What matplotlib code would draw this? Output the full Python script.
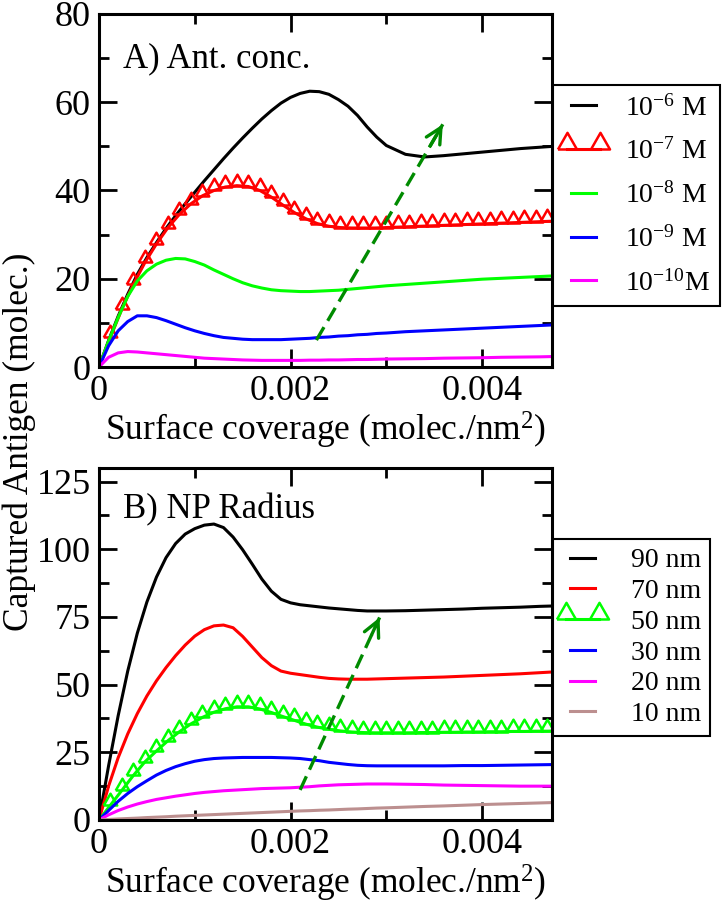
import numpy as np
import matplotlib
matplotlib.use('Agg')
import matplotlib.pyplot as plt
from matplotlib.ticker import MultipleLocator, FuncFormatter
from matplotlib.legend_handler import HandlerLine2D

plt.rcParams['font.family'] = 'serif'
plt.rcParams['font.serif'] = ['Liberation Serif', 'DejaVu Serif']
plt.rcParams['mathtext.fontset'] = 'custom'
plt.rcParams['mathtext.rm'] = 'Liberation Serif'
plt.rcParams['mathtext.it'] = 'Liberation Serif:italic'

# ---- data ----
# common x grid for the plain curves (molec./nm^2)
x_line = [0.0, 0.0001, 0.0002, 0.0003, 0.0004, 0.0005, 0.0006, 0.0007, 0.0008, 0.0009,
          0.0010, 0.0011, 0.0012, 0.0013, 0.0014, 0.0015, 0.0016, 0.0017, 0.0018, 0.0019,
          0.0020, 0.0021, 0.0022, 0.0023, 0.0024, 0.0025, 0.0026, 0.0027, 0.0028, 0.0029,
          0.0030, 0.0032, 0.0034, 0.0036, 0.0038, 0.0040, 0.0042, 0.0044, 0.0046, 0.0048]
# x grid of the curves drawn with triangle symbols
x_tri = [0.0, 0.00012, 0.00024, 0.00036, 0.00048, 0.0006, 0.00072, 0.00084, 0.00096, 0.00108,
         0.0012, 0.00132, 0.00144, 0.00156, 0.00168, 0.0018, 0.00192, 0.00204, 0.00216, 0.00228,
         0.0024, 0.00252, 0.00264, 0.00276, 0.00288, 0.003, 0.00312, 0.00324, 0.00336, 0.00348,
         0.0036, 0.00372, 0.00384, 0.00396, 0.00408, 0.0042, 0.00432, 0.00444, 0.00456, 0.00468,
         0.0048]

# panel A: antibody concentration
conc_1e6 = [0, 6.0, 11.5, 16.5, 21.0, 24.8, 28.2, 31.4, 34.3, 37.0,
            39.6, 42.2, 44.7, 47.2, 49.6, 51.9, 54.1, 56.2, 58.1, 59.8,
            61.1, 62.0, 62.5, 62.4, 61.8, 60.6, 59.1, 57.0, 54.4, 52.1,
            50.2, 48.2, 47.6, 47.9, 48.3, 48.7, 49.1, 49.5, 49.8, 50.1]
conc_1e7 = [0, 6.8, 13.2, 18.8, 23.7, 27.9, 31.6, 34.6, 37.0, 38.8,
            40.0, 40.8, 41.1, 40.9, 40.0, 38.5, 36.7, 35.0, 33.6, 32.5,
            31.9, 31.6, 31.5, 31.5, 31.5, 31.6, 31.7, 31.8, 31.9, 32.0,
            32.1, 32.2, 32.3, 32.4, 32.5, 32.6, 32.7, 32.8, 32.9, 33.0,
            33.1]
conc_1e8 = [0, 5.9, 11.2, 16.0, 19.5, 21.8, 23.3, 24.2, 24.6, 24.5,
            23.9, 23.1, 22.0, 21.0, 20.0, 19.1, 18.4, 17.9, 17.5, 17.3,
            17.2, 17.1, 17.1, 17.2, 17.3, 17.4, 17.6, 17.8, 18.0, 18.2,
            18.4, 18.7, 19.0, 19.3, 19.6, 19.9, 20.1, 20.3, 20.5, 20.7]
conc_1e9 = [0, 4.8, 8.2, 10.3, 11.6, 11.6, 11.2, 10.5, 9.7, 8.9,
            8.2, 7.6, 7.1, 6.7, 6.5, 6.3, 6.2, 6.2, 6.2, 6.2,
            6.3, 6.4, 6.5, 6.7, 6.8, 7.0, 7.1, 7.3, 7.4, 7.6,
            7.7, 8.0, 8.2, 8.4, 8.6, 8.8, 9.0, 9.2, 9.4, 9.6]
conc_1e10 = [0, 2.2, 3.2, 3.5, 3.4, 3.2, 3.0, 2.8, 2.6, 2.4,
             2.2, 2.0, 1.9, 1.8, 1.7, 1.6, 1.55, 1.5, 1.5, 1.5,
             1.5, 1.5, 1.55, 1.55, 1.6, 1.6, 1.65, 1.7, 1.7, 1.75,
             1.8, 1.85, 1.9, 2.0, 2.05, 2.1, 2.2, 2.25, 2.3, 2.4]
conc_labels = ['10$^{-6}$ M', '10$^{-7}$ M', '10$^{-8}$ M', '10$^{-9}$ M', '10$^{-10}$M']

# panel B: nanoparticle radius
rad_90 = [0, 20.0, 38.5, 55.0, 69.0, 80.5, 89.7, 96.9, 102.1, 105.6,
          107.6, 108.9, 109.3, 108.0, 104.5, 99.8, 94.5, 89.0, 84.5, 81.5,
          80.2, 79.5, 79.1, 78.7, 78.3, 78.0, 77.7, 77.4, 77.2, 77.2,
          77.2, 77.3, 77.5, 77.7, 77.9, 78.2, 78.4, 78.6, 78.9, 79.1]
rad_70 = [0, 12.5, 23.0, 31.8, 39.3, 45.8, 51.4, 56.3, 60.7, 64.6,
          67.9, 70.3, 71.7, 72.0, 71.0, 67.8, 63.9, 60.0, 57.0, 55.0,
          54.2, 53.7, 53.2, 52.7, 52.3, 52.1, 52.0, 52.0, 52.0, 52.1,
          52.2, 52.4, 52.6, 52.8, 53.1, 53.4, 53.7, 54.0, 54.4, 54.8]
rad_50 = [0, 5.5, 11.0, 16.5, 21.5, 25.5, 29.3, 32.6, 35.5, 37.9,
          39.8, 41.1, 41.8, 41.8, 41.0, 39.7, 38.2, 36.8, 35.4, 34.3,
          33.5, 32.9, 32.5, 32.3, 32.2, 32.2, 32.2, 32.2, 32.3, 32.3,
          32.4, 32.4, 32.5, 32.5, 32.6, 32.6, 32.7, 32.7, 32.8, 32.8,
          32.9]
rad_30 = [0, 3.5, 6.9, 9.8, 12.3, 14.5, 16.6, 18.3, 19.7, 20.8,
          21.7, 22.3, 22.7, 22.9, 23.0, 23.1, 23.1, 23.1, 23.1, 23.0,
          22.9, 22.7, 22.3, 21.9, 21.3, 20.9, 20.5, 20.2, 20.05, 20.0,
          20.0, 20.0, 20.0, 20.0, 20.1, 20.1, 20.2, 20.3, 20.4, 20.5]
rad_20 = [0, 1.9, 3.5, 4.8, 5.9, 6.8, 7.6, 8.2, 8.8, 9.3,
          9.8, 10.2, 10.5, 10.8, 11.0, 11.2, 11.4, 11.6, 11.7, 11.8,
          11.9, 12.1, 12.3, 12.6, 12.8, 13.0, 13.1, 13.2, 13.3, 13.3,
          13.3, 13.2, 13.1, 12.9, 12.8, 12.7, 12.6, 12.5, 12.5, 12.5]
rad_10 = [0, 0.2, 0.4, 0.55, 0.7, 0.9, 1.05, 1.2, 1.4, 1.55,
          1.7, 1.85, 2.0, 2.15, 2.3, 2.45, 2.6, 2.75, 2.9, 3.05,
          3.2, 3.35, 3.45, 3.6, 3.7, 3.85, 4.0, 4.1, 4.25, 4.4,
          4.5, 4.75, 5.0, 5.2, 5.45, 5.7, 5.9, 6.1, 6.3, 6.5]
rad_labels = ['90 nm', '70 nm', '50 nm', '30 nm', '20 nm', '10 nm']

# trend arrows (tail, head) in data coordinates
arrow_a = [(0.00227, 6.1), (0.00359, 55.0)]
arrow_b = [(0.00210, 11.1), (0.00293, 74.8)]

# ---- styling ----
tri = [(-1, 0), (1, 0), (0, 1.75), (-1, 0)]   # triangle sitting on the data point
lw = 2.2
W, H = 725, 902

fig = plt.figure(figsize=(W / 100, H / 100), dpi=100)
axA = fig.add_axes([99 / W, 1 - 367 / H, 453 / W, 353 / H])
axB = fig.add_axes([99 / W, 1 - 820 / H, 453 / W, 352 / H])

axA.plot(x_line, conc_1e6, color='black', lw=lw, label=conc_labels[0])
redA, = axA.plot(x_tri, conc_1e7, color='red', lw=lw, marker=tri, ms=17, mfc='none', mec='red',
                 mew=1.8, markevery=slice(1, None), label=conc_labels[1])
axA.plot(x_line, conc_1e8, color='#00ff00', lw=lw, label=conc_labels[2])
axA.plot(x_line, conc_1e9, color='#0000ff', lw=lw, label=conc_labels[3])
axA.plot(x_line, conc_1e10, color='#ff00ff', lw=lw, label=conc_labels[4])

axB.plot(x_line, rad_90, color='black', lw=lw, label=rad_labels[0])
axB.plot(x_line, rad_70, color='red', lw=lw, label=rad_labels[1])
greenB, = axB.plot(x_tri, rad_50, color='#00ff00', lw=lw, marker=tri, ms=17, mfc='none',
                   mec='#00ff00', mew=1.8, markevery=slice(1, None), label=rad_labels[2])
axB.plot(x_line, rad_30, color='#0000ff', lw=lw, label=rad_labels[3])
axB.plot(x_line, rad_20, color='#ff00ff', lw=lw, label=rad_labels[4])
axB.plot(x_line, rad_10, color='#bc8f8f', lw=lw, label=rad_labels[5])


def trend_arrow(ax, arr):
    (x0, y0), (x1, y1) = arr
    ax.plot([x0, x1], [y0, y1], color='#008b00', lw=2.4, ls='--', dashes=(4.5, 2.2))
    ax.annotate('', xy=(x1, y1), xytext=(x0 + 0.9 * (x1 - x0), y0 + 0.9 * (y1 - y0)),
                arrowprops=dict(arrowstyle='->', color='#008b00', lw=2.4, mutation_scale=28,
                                shrinkA=0, shrinkB=0))


trend_arrow(axA, arrow_a)
trend_arrow(axB, arrow_b)

xfmt = FuncFormatter(lambda v, p: '0' if abs(v) < 1e-12 else '%.3f' % v)
for ax, ymax, ymaj in [(axA, 80, 20), (axB, 130, 25)]:
    ax.set_xlim(0, 0.00473)
    ax.set_ylim(0, ymax)
    ax.set_xticks([0, 0.002, 0.004])
    ax.xaxis.set_minor_locator(MultipleLocator(0.001))
    ax.yaxis.set_major_locator(MultipleLocator(ymaj))
    ax.yaxis.set_minor_locator(MultipleLocator(ymaj / 2))
    ax.xaxis.set_major_formatter(xfmt)
    ax.tick_params(which='both', direction='in', top=True, right=True, width=2)
    ax.tick_params(which='major', length=13, labelsize=26, pad=6)
    ax.tick_params(which='minor', length=7)
    for s in ax.spines.values():
        s.set_linewidth(2.2)
    ax.set_xlabel('Surface coverage (molec./nm$^2$)', fontsize=25.5, labelpad=1)

axA.text(0.053, 0.85, 'A) Ant. conc.', transform=axA.transAxes, fontsize=25)
axB.text(0.053, 0.858, 'B) NP Radius', transform=axB.transAxes, fontsize=25)

fig.text(0.026, 0.51, 'Captured Antigen (molec.)', rotation=90, fontsize=25.5,
         ha='center', va='center')

# markers near the ends of the legend line, like the original
tri_handler = HandlerLine2D(numpoints=2, marker_pad=0.15)

legA = axA.legend(loc='upper left', bbox_to_anchor=(553 / W, 1 - 85 / H),
                  bbox_transform=fig.transFigure, borderaxespad=0, fontsize=20,
                  numpoints=2, handlelength=1.5, handletextpad=0.75, labelspacing=0.62,
                  fancybox=False, framealpha=1, edgecolor='black', borderpad=0.35,
                  handler_map={redA: tri_handler})
legA.get_frame().set_linewidth(1.5)
legB = axB.legend(loc='upper left', bbox_to_anchor=(553 / W, 1 - 539 / H),
                  bbox_transform=fig.transFigure, borderaxespad=0, fontsize=20,
                  numpoints=2, handlelength=1.5, handletextpad=1.0, labelspacing=0.19,
                  fancybox=False, framealpha=1, edgecolor='black', borderpad=0.32,
                  handler_map={greenB: tri_handler})
legB.get_frame().set_linewidth(1.5)
for leg in (legA, legB):
    for h in leg.legend_handles:
        if h.get_marker() not in (None, 'None', ''):
            h.set_markersize(24)

fig.savefig('out.png', dpi=100)
